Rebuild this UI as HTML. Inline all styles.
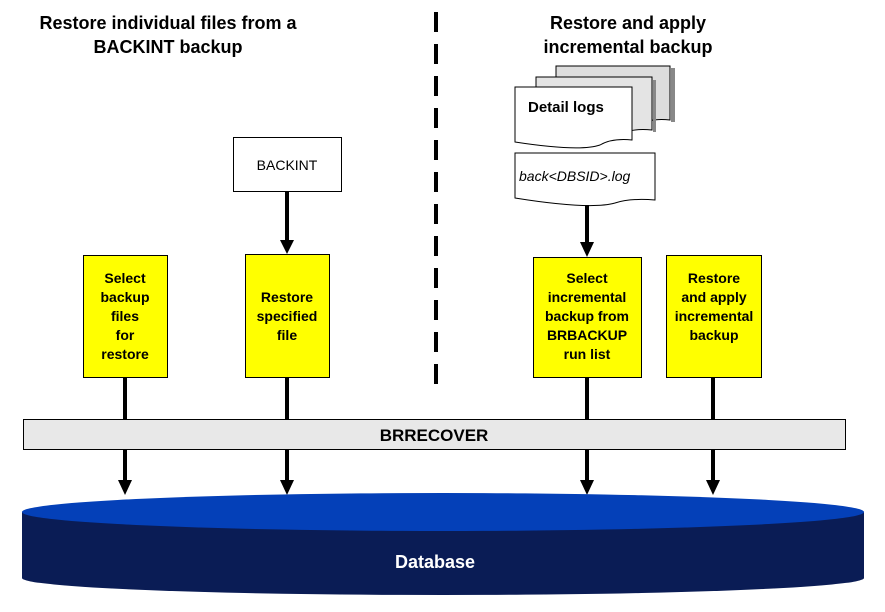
<!DOCTYPE html>
<html><head><style>body{margin:0;background:#fff}svg{display:block}</style></head><body>
<svg width="885" height="612" viewBox="0 0 885 612" xmlns="http://www.w3.org/2000/svg" font-family="Liberation Sans, sans-serif" font-weight="bold">
<text x="168" y="29" font-size="18" text-anchor="middle">Restore individual files from a</text>
<text x="168" y="53" font-size="18" text-anchor="middle">BACKINT backup</text>
<text x="628" y="29" font-size="18" text-anchor="middle">Restore and apply</text>
<text x="628" y="53" font-size="18" text-anchor="middle">incremental backup</text>
<line x1="436" y1="12" x2="436" y2="388" stroke="#000" stroke-width="4" stroke-dasharray="20,12"/>
<g stroke="#000" stroke-width="1">
<path d="M556 66 H670 V120 Q650 118 640 125 Q620 132 556 122 Z" fill="#ddd"/>
<path d="M536 77 H652 V130 Q630 128 620 135 Q600 142 536 132 Z" fill="#e4e4e4"/>
<path d="M515 87 H632 V140 Q612 138 600 145 Q580 152 515 142 Z" fill="#fff"/>
<path d="M515 153 H655 V200 Q630 198 615 203 Q590 210 515 198 Z" fill="#fff"/>
</g>
<path d="M671 68 h4 v54 h-4z M653 80 h3 v52 h-3z" fill="#888"/>
<text x="528" y="112" font-size="15" font-weight="bold">Detail logs</text>
<text x="519" y="181" font-size="14" font-weight="normal" font-style="italic">back&lt;DBSID&gt;.log</text>
<rect x="233.5" y="137.5" width="108" height="54" fill="#fff" stroke="#000"/>
<text x="287" y="170" font-size="14" font-weight="normal" text-anchor="middle">BACKINT</text>
<g fill="#ff0" stroke="#000">
<rect x="83.5" y="255.5" width="84" height="122"/>
<rect x="245.5" y="254.5" width="84" height="123"/>
<rect x="533.5" y="257.5" width="108" height="120"/>
<rect x="666.5" y="255.5" width="95" height="122"/>
</g>
<g font-size="14" text-anchor="middle">
<text x="125" y="283">Select</text><text x="125" y="302">backup</text><text x="125" y="321">files</text><text x="125" y="340">for</text><text x="125" y="359">restore</text>
<text x="287" y="302">Restore</text><text x="287" y="321">specified</text><text x="287" y="340">file</text>
<text x="587" y="283">Select</text><text x="587" y="302">incremental</text><text x="587" y="321">backup from</text><text x="587" y="340">BRBACKUP</text><text x="587" y="359">run list</text>
<text x="714" y="283">Restore</text><text x="714" y="302">and apply</text><text x="714" y="321">incremental</text><text x="714" y="340">backup</text>
</g>
<g stroke="#000" stroke-width="4">
<line x1="287" y1="192" x2="287" y2="242"/>
<line x1="587" y1="205" x2="587" y2="244"/>
<line x1="125" y1="378" x2="125" y2="419"/><line x1="287" y1="378" x2="287" y2="419"/>
<line x1="587" y1="378" x2="587" y2="419"/><line x1="713" y1="378" x2="713" y2="419"/>
<line x1="125" y1="449" x2="125" y2="482"/><line x1="287" y1="449" x2="287" y2="482"/>
<line x1="587" y1="449" x2="587" y2="482"/><line x1="713" y1="449" x2="713" y2="482"/>
</g>
<g fill="#000">
<path d="M280 240 h14 l-7 14z"/><path d="M580 242 h14 l-7 15z"/>
<path d="M118 480 h14 l-7 15z"/><path d="M280 480 h14 l-7 15z"/><path d="M580 480 h14 l-7 15z"/><path d="M706 480 h14 l-7 15z"/>
</g>
<rect x="23.5" y="419.5" width="822" height="30" fill="#e8e8e8" stroke="#000"/>
<text x="434" y="441" font-size="17" text-anchor="middle">BRRECOVER</text>
<path d="M22 512 V578 A421 17 0 0 0 864 578 V512 Z" fill="#0a1c55"/>
<ellipse cx="443" cy="512" rx="421" ry="19" fill="#0440b8"/>
<text x="435" y="568" font-size="18" fill="#fff" text-anchor="middle">Database</text>
</svg>
</body></html>
